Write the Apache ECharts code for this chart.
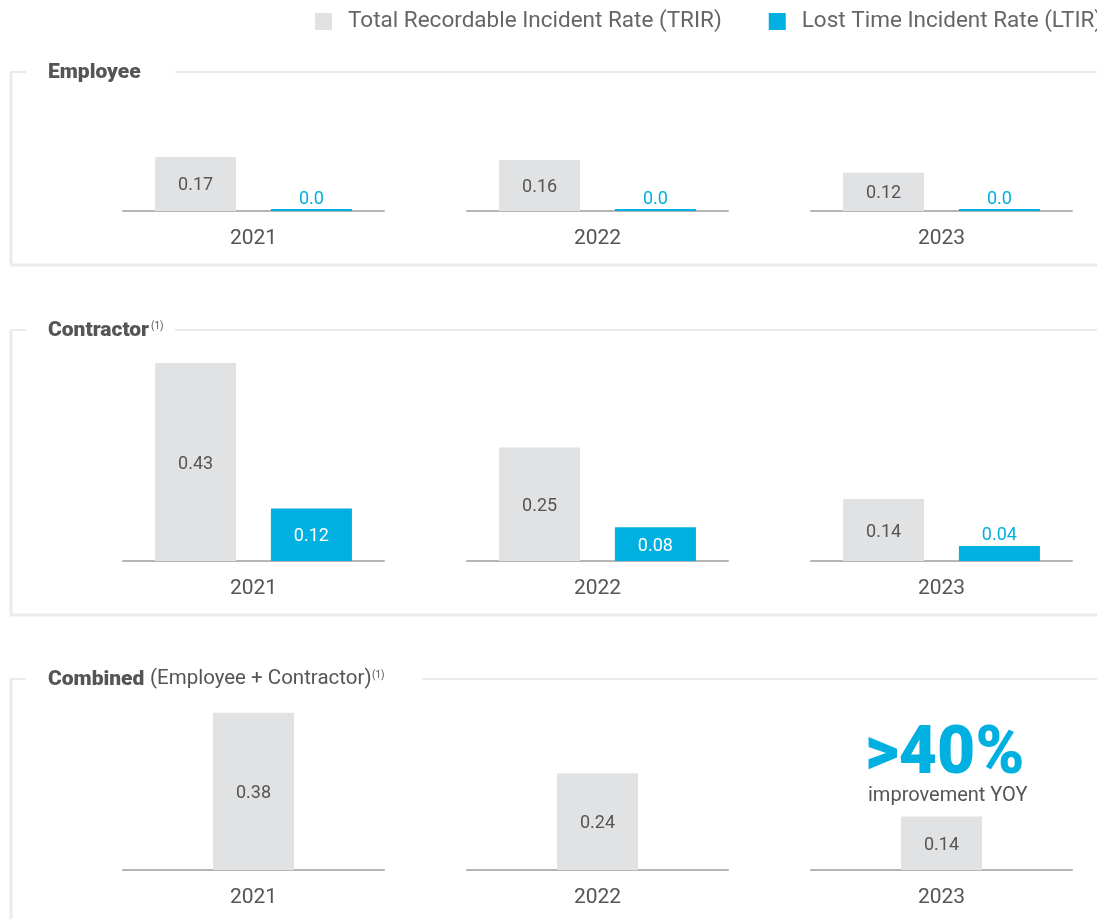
<!DOCTYPE html>
<html>
<head>
<meta charset="utf-8">
<script src="https://cdn.jsdelivr.net/npm/echarts@6/dist/echarts.min.js"></script>
<style>
html,body{margin:0;padding:0;background:#fff;}
#chart{width:1097px;height:919px;}
</style>
</head>
<body>
<div id="chart"></div>
<script>
// ---- data ----
var years = ['2021', '2022', '2023'];
var seriesNames = ['Total Recordable Incident Rate (TRIR)', 'Lost Time Incident Rate (LTIR)'];
var employeeTRIR = [0.17, 0.16, 0.12];
var employeeLTIR = [0.0, 0.0, 0.0];
var contractorTRIR = [0.43, 0.25, 0.14];
var contractorLTIR = [0.12, 0.08, 0.04];
var combinedTRIR = [0.38, 0.24, 0.14];

// ---- styling / layout ----
var GREY = '#e1e2e4', BLUE = '#00b0e0', TXT = '#555555';
var FONT = 'Roboto, "Liberation Sans", sans-serif';
var groupLefts = [123, 467, 811], groupWidth = 261;
var panels = [
  {baseline: 211, min: 0, max: 0.2, scale: 318, trir: employeeTRIR, ltir: employeeLTIR, ltirDec: 1},
  {baseline: 561, min: 0.008, max: 0.49, scale: 469, trir: contractorTRIR, ltir: contractorLTIR, ltirDec: 2},
  {baseline: 870, min: 0.016, max: 0.4, scale: 432, trir: combinedTRIR, ltir: null}
];

var grids = [], xAxes = [], yAxes = [], series = [];
panels.forEach(function (p, pi) {
  var h = (p.max - p.min) * p.scale;
  years.forEach(function (yr, yi) {
    var gi = grids.length;
    grids.push({left: groupLefts[yi], width: groupWidth, top: p.baseline - h, height: h});
    xAxes.push({
      type: 'category', gridIndex: gi, data: [yr],
      axisTick: {show: false},
      axisLine: {lineStyle: {color: '#b5b5b5', width: 2}},
      axisLabel: {color: TXT, fontSize: 21, fontFamily: FONT, margin: 17}
    });
    yAxes.push({type: 'value', gridIndex: gi, min: p.min, max: p.max, show: false, splitLine: {show: false}});
    series.push({
      name: seriesNames[0], type: 'bar', xAxisIndex: gi, yAxisIndex: gi,
      barWidth: 81, barGap: '43%',
      itemStyle: {color: GREY},
      label: {show: true, position: 'inside', offset: [0, 2], color: TXT, fontSize: 18, fontFamily: FONT,
        formatter: function (d) { return d.value.toFixed(2); }},
      data: [p.trir[yi]]
    });
    if (p.ltir) {
      var v = p.ltir[yi];
      var inside = (v - p.min) * p.scale > 30;
      var dec = p.ltirDec;
      series.push({
        name: seriesNames[1], type: 'bar', xAxisIndex: gi, yAxisIndex: gi,
        barWidth: 81, barGap: '43%', barMinHeight: 2,
        itemStyle: {color: BLUE},
        label: {show: true, position: inside ? 'inside' : 'top', distance: 1,
          offset: inside ? [0, 2] : [0, 0],
          color: inside ? '#ffffff' : BLUE, fontSize: 18, fontFamily: FONT,
          formatter: function (d) { return d.value.toFixed(dec); }},
        data: [v]
      });
    }
  });
});

// panel frames
var FRAME = '#ebebeb';
var frames = [
  {top: 72, bottom: 265, lineStart: 175},
  {top: 330, bottom: 615, lineStart: 175},
  {top: 679, bottom: 960, lineStart: 422}
];
var graphics = [];
frames.forEach(function (f) {
  graphics.push({type: 'line', shape: {x1: 11, y1: f.top, x2: 11, y2: f.bottom}, style: {stroke: FRAME, lineWidth: 3}, silent: true});
  graphics.push({type: 'line', shape: {x1: 10, y1: f.top, x2: 26, y2: f.top}, style: {stroke: FRAME, lineWidth: 2}, silent: true});
  graphics.push({type: 'line', shape: {x1: f.lineStart, y1: f.top, x2: 1100, y2: f.top}, style: {stroke: FRAME, lineWidth: 2}, silent: true});
  graphics.push({type: 'line', shape: {x1: 10, y1: f.bottom, x2: 1100, y2: f.bottom}, style: {stroke: FRAME, lineWidth: 3}, silent: true});
});
// titles
var titleBold = {fill: TXT, fontSize: 21, fontWeight: 900, fontFamily: FONT};
graphics.push({type: 'text', left: 48, top: 62, style: Object.assign({text: 'Employee'}, titleBold)});
graphics.push({type: 'text', left: 48, top: 320, style: Object.assign({text: 'Contractor'}, titleBold)});
graphics.push({type: 'text', left: 151, top: 321, style: {text: '(1)', fill: TXT, fontSize: 10, fontFamily: FONT}});
graphics.push({type: 'text', left: 48, top: 669, style: Object.assign({text: 'Combined'}, titleBold)});
graphics.push({type: 'text', left: 150, top: 668, style: {text: '(Employee + Contractor)', fill: TXT, fontSize: 20.5, fontFamily: FONT}});
graphics.push({type: 'text', left: 372, top: 670, style: {text: '(1)', fill: TXT, fontSize: 10, fontFamily: FONT}});
// callout
graphics.push({type: 'text', left: 865, top: 723, style: {text: '>40%', fill: BLUE, fontSize: 66, fontWeight: 900, fontFamily: FONT}});
graphics.push({type: 'text', left: 868, top: 786, style: {text: 'improvement YOY', fill: TXT, fontSize: 20, fontFamily: FONT}});

var option = {
  animation: false,
  backgroundColor: '#ffffff',
  legend: {
    left: 310, top: 5, width: 1500,
    itemWidth: 17, itemHeight: 17, itemGap: 47, icon: 'rect',
    data: seriesNames,
    textStyle: {color: '#666666', fontSize: 22.5, fontFamily: FONT, padding: [0, 0, 0, 11]}
  },
  grid: grids, xAxis: xAxes, yAxis: yAxes, series: series,
  graphic: graphics
};
var chart = echarts.init(document.getElementById('chart'), null, {renderer: 'canvas'});
chart.setOption(option);
</script>
</body>
</html>
